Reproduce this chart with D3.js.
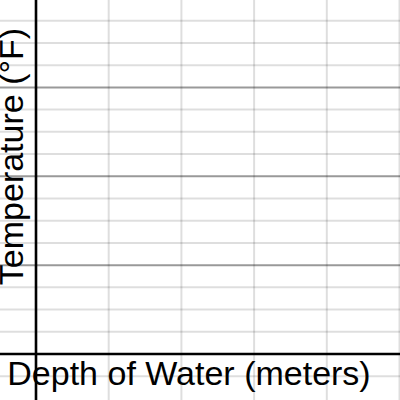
<!DOCTYPE html>
<html><head><meta charset="utf-8">
<script src="https://cdn.jsdelivr.net/npm/d3@7"></script>
<style>html,body{margin:0;padding:0;background:#fff;}svg{display:block;}</style>
</head><body>
<script>
const xTitle = "Depth of Water (meters)";
const yTitle = "Temperature (°F)";
const xGridValues = [1, 2, 3, 4, 5];
const yGridValues = [-1, 1, 2, 3, 5, 6, 7, 9, 10, 11, 13, 14, 15];
const yMajorValues = [4, 8, 12, 16];

const W = 400, H = 400;
const svg = d3.select("body").append("svg").attr("width", W).attr("height", H);
svg.append("rect").attr("width", W).attr("height", H).attr("fill", "#fff");

const x = d3.scaleLinear().domain([0, 5]).range([36, 399.5]);
const y = d3.scaleLinear().domain([0, 16]).range([354, -1.5]);

const g = svg.append("g");
g.selectAll("line.vx").data(xGridValues).join("line")
  .attr("x1", d => x(d)).attr("x2", d => x(d)).attr("y1", 0).attr("y2", H)
  .attr("stroke", "#000").attr("stroke-opacity", 0.13).attr("stroke-width", 2);
g.selectAll("line.hy").data(yGridValues).join("line")
  .attr("y1", d => y(d)).attr("y2", d => y(d)).attr("x1", 0).attr("x2", W)
  .attr("stroke", "#000").attr("stroke-opacity", 0.13).attr("stroke-width", 2);
g.selectAll("line.hm").data(yMajorValues).join("line")
  .attr("y1", d => y(d)).attr("y2", d => y(d)).attr("x1", 0).attr("x2", W)
  .attr("stroke", "#000").attr("stroke-opacity", 0.4).attr("stroke-width", 2);

// axes
svg.append("line").attr("x1", 0).attr("x2", W).attr("y1", y(0)).attr("y2", y(0))
  .attr("stroke", "#000").attr("stroke-width", 2.6);
svg.append("line").attr("x1", x(0)).attr("x2", x(0)).attr("y1", 0).attr("y2", H)
  .attr("stroke", "#000").attr("stroke-width", 2.6);

const font = "'Liberation Sans', Arial, Helvetica, sans-serif";
svg.append("text").attr("x", 7.3).attr("y", 385)
  .attr("font-family", font).attr("font-size", 34).attr("fill", "#000")
  .text(xTitle);
svg.append("text").attr("transform", "translate(22.5,156.5) rotate(-90)")
  .attr("text-anchor", "middle")
  .attr("font-family", font).attr("font-size", 34).attr("fill", "#000")
  .text(yTitle);
</script>
</body></html>
